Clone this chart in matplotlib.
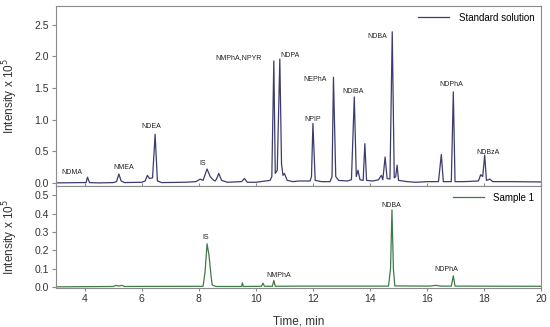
import numpy as np
import matplotlib.pyplot as plt

plt.rcParams['font.family'] = ['Liberation Sans', 'DejaVu Sans']

# Standard solution trace (time, intensity x 1e5)
std_t = [3.0, 3.9, 4.05, 4.1, 4.17, 4.5, 5.0, 5.12, 5.2, 5.28, 5.4, 6.0, 6.12, 6.2, 6.27,
         6.38, 6.47, 6.55, 6.7, 7.5, 7.9, 8.05, 8.15, 8.29, 8.4, 8.5, 8.57, 8.62, 8.7, 8.8,
         9.0, 9.5, 9.6, 9.7, 10.0, 10.5, 10.56, 10.63, 10.68, 10.75, 10.84, 10.9, 10.95,
         11.0, 11.1, 11.3, 11.5, 11.9, 11.95, 12.0, 12.08, 12.3, 12.6, 12.67, 12.72, 12.8,
         12.9, 13.2, 13.35, 13.45, 13.52, 13.58, 13.65, 13.76, 13.82, 13.88, 14.1, 14.3,
         14.4, 14.45, 14.53, 14.6, 14.7, 14.78, 14.85, 14.9, 14.95, 15.0, 15.3, 15.6, 16.0,
         16.4, 16.5, 16.57, 16.85, 16.92, 16.98, 17.3, 17.8, 17.88, 17.95, 18.02, 18.08,
         18.2, 18.3, 19.0, 20.0]
std_y = [0.0, 0.005, 0.005, 0.09, 0.005, 0.0, 0.005, 0.02, 0.14, 0.03, 0.005, 0.01, 0.03,
         0.12, 0.07, 0.08, 0.77, 0.03, 0.005, 0.01, 0.02, 0.06, 0.04, 0.22, 0.1, 0.05, 0.03,
         0.06, 0.15, 0.04, 0.01, 0.02, 0.07, 0.01, 0.01, 0.04, 0.1, 1.93, 0.15, 0.2, 1.96,
         0.3, 0.12, 0.15, 0.04, 0.02, 0.03, 0.03, 0.1, 0.94, 0.04, 0.02, 0.02, 0.1, 1.67,
         0.1, 0.04, 0.03, 0.05, 1.36, 0.1, 0.2, 0.05, 0.04, 0.62, 0.04, 0.03, 0.05, 0.12,
         0.05, 0.41, 0.07, 0.06, 2.39, 0.08, 0.1, 0.28, 0.04, 0.02, 0.01, 0.02, 0.02, 0.45,
         0.02, 0.02, 1.44, 0.02, 0.02, 0.03, 0.13, 0.1, 0.44, 0.04, 0.06, 0.02, 0.02, 0.015]

# Sample 1 trace
smp_t = [3.0, 5.0, 5.1, 5.2, 5.3, 5.4, 8.15, 8.22, 8.29, 8.36, 8.43, 8.47, 8.6, 9.5, 9.53,
         9.56, 10.2, 10.25, 10.3, 10.58, 10.63, 10.68, 11.5, 14.65, 14.72, 14.77, 14.82,
         14.87, 16.1, 16.3, 16.5, 16.85, 16.92, 16.98, 20.0]
smp_y = [0.0, 0.002, 0.008, 0.004, 0.008, 0.002, 0.003, 0.08, 0.235, 0.17, 0.06, 0.01,
         0.002, 0.002, 0.022, 0.002, 0.003, 0.02, 0.003, 0.003, 0.035, 0.003, 0.004, 0.004,
         0.1, 0.42, 0.1, 0.005, 0.004, 0.008, 0.004, 0.004, 0.06, 0.004, 0.003]

# peak labels (name, x, y)
std_labels = [('NDMA', 3.57, 0.16), ('NMEA', 5.37, 0.25), ('NDEA', 6.35, 0.89),
              ('IS', 8.15, 0.30), ('NMPhA,NPYR', 9.4, 1.98), ('NDPA', 11.18, 2.02),
              ('NEPhA', 12.08, 1.63), ('NPIP', 11.98, 1.01), ('NDiBA', 13.39, 1.45),
              ('NDBA', 14.27, 2.32), ('NDPhA', 16.85, 1.55), ('NDBzA', 18.14, 0.48)]
smp_labels = [('IS', 8.25, 0.27), ('NMPhA', 10.81, 0.064), ('NDBA', 14.74, 0.445),
              ('NDPhA', 16.68, 0.097)]

std_color = '#3c3c6e'
smp_color = '#3f7a48'
frame = '#8a8a8a'
tick_c = '#333333'

fig = plt.figure(figsize=(5.5, 3.27), dpi=100)
ax1 = fig.add_axes([0.102, 0.431, 0.882, 0.551])
ax2 = fig.add_axes([0.102, 0.12, 0.882, 0.311])

ax1.plot(std_t, std_y, color=std_color, lw=0.9, label='Standard solution')
ax2.plot(smp_t, smp_y, color=smp_color, lw=0.9, label='Sample 1')

for name, x, y in std_labels:
    ax1.text(x, y, name, fontsize=5, ha='center', va='center', color='#222222')
for name, x, y in smp_labels:
    ax2.text(x, y, name, fontsize=5, ha='center', va='center', color='#222222')

ax1.set_xlim(3, 20)
ax1.set_ylim(-0.05, 2.8)
ax1.set_yticks([0.0, 0.5, 1.0, 1.5, 2.0, 2.5])
ax1.set_xticks(np.arange(4, 21, 2))
ax1.tick_params(axis='x', direction='in', length=2.5, labelbottom=False, color=frame)

ax2.set_xlim(3, 20)
ax2.set_ylim(-0.005, 0.55)
ax2.set_yticks([0.0, 0.1, 0.2, 0.3, 0.4, 0.5])
ax2.set_xticks(np.arange(4, 21, 2))
ax2.tick_params(axis='x', direction='out', length=2.5, color=frame)

for ax in (ax1, ax2):
    ax.tick_params(axis='y', direction='out', length=3, color=frame)
    ax.tick_params(labelsize=7.5, labelcolor=tick_c, pad=2)
    for s in ax.spines.values():
        s.set_color(frame)
        s.set_linewidth(0.8)
    ax.set_ylabel(r'Intensity x 10$^5$', fontsize=8.5, color=tick_c)
    ax.legend(loc='upper right', frameon=False, fontsize=7, handlelength=3.2,
              borderaxespad=0.3, handletextpad=1.0)

ax1.yaxis.set_label_coords(-0.075, 0.5)
ax2.yaxis.set_label_coords(-0.075, 0.5)
ax2.set_xlabel('Time, min', fontsize=8.5, color=tick_c, labelpad=8)

fig.savefig('out.png', dpi=100)
